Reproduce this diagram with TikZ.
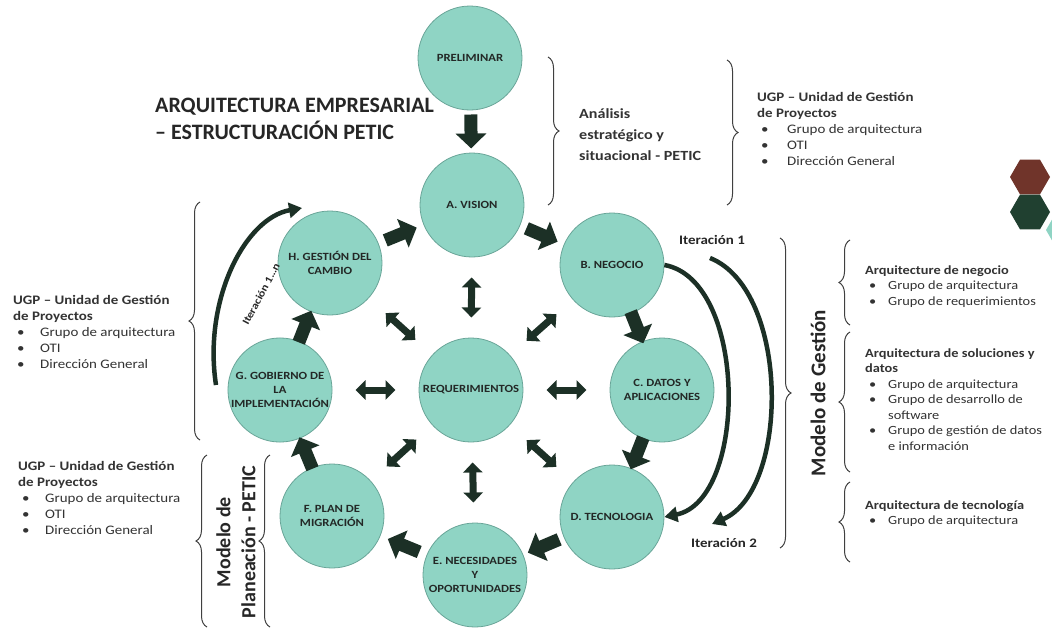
\documentclass[tikz,border=0pt]{standalone}
\usepackage{fontspec}
\setmainfont{Carlito}
\newfontfamily\widefont[FakeStretch=1.15]{Carlito}
\usetikzlibrary{arrows.meta,calc,decorations.pathreplacing,shapes.geometric}

\definecolor{mint}{RGB}{143,212,196}
\definecolor{mintline}{RGB}{105,165,152}
\definecolor{arrowgreen}{RGB}{28,48,38}
\definecolor{labeltext}{RGB}{35,40,38}
\definecolor{hexred}{RGB}{112,52,42}
\definecolor{hexgreen}{RGB}{32,64,48}

\newcommand{\itm}[1][24pt]{\makebox[#1][l]{\hspace{4pt}\textbullet}}

\begin{document}
\begin{tikzpicture}[x=1pt,y=-1pt,
		phase/.style={circle,draw=mintline,fill=mint,line width=0.8pt,minimum size=104pt,inner sep=0pt,align=center,text=labeltext,font=\widefont\bfseries\fontsize{11}{14}\selectfont},
		blockarrow/.style={draw=arrowgreen,line width=13pt,-{Triangle[width=30pt,length=15pt]}},
		twinarrow/.style={draw=arrowgreen,line width=7pt,{Triangle[width=19pt,length=10pt]}-{Triangle[width=19pt,length=10pt]}},
		bendarrow/.style={draw=arrowgreen,line width=4.5pt,-{Triangle[width=15pt,length=13pt]}},
		curly/.style={decorate,decoration={brace,amplitude=11pt},draw=black!75,line width=1pt},
		infotext/.style={anchor=base west,align=left,inner sep=0pt,text=black!80,font=\widefont\fontsize{13}{16}\selectfont},
		sidehead/.style={inner sep=0pt,text=black!85,font=\bfseries\fontsize{21}{25}\selectfont},
		iterlabel/.style={inner sep=0pt,text=black!85,font=\widefont\bfseries\fontsize{13}{15}\selectfont}]
	\useasboundingbox (0,0) rectangle (1052,629);
	\fill[white] (0,0) rectangle (1052,629);

	% hexagons at the border
	\node[regular polygon,regular polygon sides=6,minimum size=40pt,fill=hexred] (hexr) at (1030,177) {};
	\node[regular polygon,regular polygon sides=6,minimum size=40pt,fill=hexgreen] (hexg) at (1030,212) {};
	\node[regular polygon,regular polygon sides=6,minimum size=40pt,fill=mint] (hext) at (1066,230) {};

	% phases
	\node[phase] (pre) at (470,58) {PRELIMINAR};
	\node[phase] (vis) at (472,205) {A. VISION};
	\node[phase] (neg) at (612,265) {B. NEGOCIO};
	\node[phase] (dat) at (662,390) {C. DATOS Y\\APLICACIONES};
	\node[phase] (tec) at (612,517) {D. TECNOLOGIA};
	\node[phase] (nec) at (475,575) {E. NECESIDADES\\Y\\OPORTUNIDADES};
	\node[phase] (mig) at (332,516) {F. PLAN DE\\MIGRACIÓN};
	\node[phase] (gob) at (280,390) {G. GOBIERNO DE\\LA\\IMPLEMENTACIÓN};
	\node[phase] (cam) at (330,263) {H. GESTIÓN DEL\\CAMBIO};
	\node[phase] (req) at (471,390) {REQUERIMIENTOS};

	% cycle
	\foreach \a/\b in {pre/vis,vis/neg,neg/dat,dat/tec,tec/nec,nec/mig,mig/gob,gob/cam,cam/vis}
		\draw[blockarrow] ($(\a)!.5!(\b)!17pt!(\a)$) -- ($(\a)!.5!(\b)!17pt!(\b)$);
	\foreach \b in {vis,neg,dat,tec,nec,mig,gob,cam}
		\draw[twinarrow] ($(req)!.5!(\b)!20pt!(req)$) -- ($(req)!.5!(\b)!20pt!(\b)$);

	% iterations
	\coordinate (itn0) at (216,385);
	\coordinate (itn1) at (302,208);
	\draw[bendarrow] (itn0) .. controls (203,300) and (245,218) .. (itn1);
	\node[iterlabel,rotate=62,font=\widefont\bfseries\fontsize{10.5}{12}\selectfont] (itnlab) at (261,294) {Iteración 1…n};
	\draw[bendarrow] (neg.east) .. controls (748,280) and (748,500) .. (tec.east);
	\coordinate (it1) at (710,258);
	\coordinate (it2) at (712,524);
	\draw[bendarrow] (it1) .. controls (790,290) and (790,490) .. (it2);
	\node[iterlabel] (it1lab) at (712,240) {Iteración 1};
	\node[iterlabel] (it2lab) at (724,543) {Iteración 2};

	% title (base = last line)
	\node[anchor=base west,align=left,inner sep=0pt,text=black!85,font=\bfseries\fontsize{22}{27}\selectfont] (title) at (155,139) {ARQUITECTURA EMPRESARIAL\\– ESTRUCTURACIÓN PETIC};

	% top braces
	\draw[curly] (548,57) -- (548,205);
	\node[infotext,font=\widefont\bfseries\fontsize{14}{21}\selectfont] (analisis) at (579,160) {Análisis\\estratégico y\\situacional - PETIC};
	\draw[curly] (727,60) -- (727,205);
	\node[infotext] (ugptop) at (757,165) {\textbf{UGP – Unidad de Gestión}\\\textbf{de Proyectos}\\\itm[30pt]Grupo de arquitectura\\\itm[30pt]OTI\\\itm[30pt]Dirección General};

	% left braces
	\draw[curly] (200,440) -- (200,202);
	\node[infotext] (ugpleft) at (13,368) {\textbf{UGP – Unidad de Gestión}\\\textbf{de Proyectos}\\\itm[27pt]Grupo de arquitectura\\\itm[27pt]OTI\\\itm[27pt]Dirección General};
	\draw[curly] (207,627) -- (207,455);
	\node[sidehead,rotate=90,align=center,font=\bfseries\fontsize{20}{25}\selectfont] (modplan) at (236,542) {Modelo de\\Planeación - PETIC};
	\draw[curly] (270,627) -- (270,455);
	\node[infotext] (ugpbottom) at (18,534) {\textbf{UGP – Unidad de Gestión}\\\textbf{de Proyectos}\\\itm[27pt]Grupo de arquitectura\\\itm[27pt]OTI\\\itm[27pt]Dirección General};

	% right braces
	\draw[curly] (780,238) -- (780,548);
	\node[sidehead,rotate=90] (modgest) at (818,393) {Modelo de Gestión};
	\draw[curly] (850,325) -- (850,240);
	\node[infotext,font=\widefont\fontsize{12.5}{15.5}\selectfont] (negocio) at (865,305) {\textbf{Arquitecture de negocio}\\\itm[23pt]Grupo de arquitectura\\\itm[23pt]Grupo de requerimientos};
	\draw[curly] (850,472) -- (850,332);
	\node[infotext,font=\widefont\fontsize{12.5}{15.5}\selectfont] (soluciones) at (865,450) {\textbf{Arquitectura de soluciones y}\\\textbf{datos}\\\itm[23pt]Grupo de arquitectura\\\itm[23pt]Grupo de desarrollo de\\\hspace*{23pt}software\\\itm[23pt]Grupo de gestión de datos\\\hspace*{23pt}e información};
	\draw[curly] (850,562) -- (850,482);
	\node[infotext,font=\widefont\fontsize{12.5}{15.5}\selectfont] (tecnologia) at (865,524.5) {\textbf{Arquitectura de tecnología}\\\itm[23pt]Grupo de arquitectura};
\end{tikzpicture}
\end{document}
